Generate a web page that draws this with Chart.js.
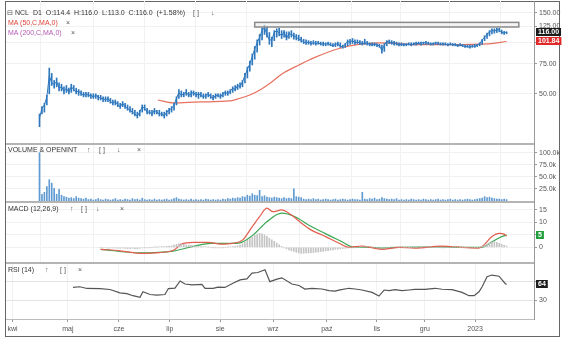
<!DOCTYPE html>
<html>
<head>
<meta charset="utf-8">
<script src="https://cdn.jsdelivr.net/npm/chart.js@4.4.0/dist/chart.umd.min.js"></script>
<style>
  html, body { margin: 0; padding: 0; background: #fff; }
  #wrap { position: relative; width: 564px; height: 341px; overflow: hidden; font-family: "Liberation Sans", Arial, sans-serif; }
  #frame { position: absolute; left: 5px; top: 1px; width: 555px; height: 336px; border: 1px solid #666; box-sizing: border-box; }
  canvas { position: absolute; left: 0; }
  .lbl { position: absolute; font-size: 7px; line-height: 8px; color: #333; white-space: nowrap; }
  .ic { color: #555; }
</style>
</head>
<body>
<div id="wrap">
  <div id="frame"></div>
  <canvas id="priceChart" width="564" height="142" style="top:1px"></canvas>
  <canvas id="volChart" width="564" height="58" style="top:143px"></canvas>
  <canvas id="macdChart" width="564" height="61" style="top:201px"></canvas>
  <canvas id="rsiChart" width="564" height="75" style="top:262px"></canvas>

  <div class="lbl ic" style="left:7px;top:9px">⊟</div>
  <div class="lbl" style="left:15px;top:9px">NCL&nbsp; D1&nbsp; O:114.4&nbsp; H:116.0&nbsp; L:113.0&nbsp; C:116.0&nbsp; (+1.58%)</div>
  <div class="lbl ic" style="left:193px;top:9px">[ ]</div>
  <div class="lbl ic" style="left:211px;top:9px">↓</div>
  <div class="lbl" style="left:8px;top:19px;color:#e0443a">MA (50,C,MA,0)</div>
  <div class="lbl ic" style="left:66px;top:19px">×</div>
  <div class="lbl" style="left:8px;top:29px;color:#b35ab6">MA (200,C,MA,0)</div>
  <div class="lbl ic" style="left:71px;top:29px">×</div>

  <div class="lbl" style="left:8px;top:146px">VOLUME &amp; OPENINT</div>
  <div class="lbl ic" style="left:87px;top:146px">↑</div>
  <div class="lbl ic" style="left:99px;top:146px">[ ]</div>
  <div class="lbl ic" style="left:117px;top:146px">↓</div>
  <div class="lbl ic" style="left:137px;top:146px">×</div>

  <div class="lbl" style="left:8px;top:205px">MACD (12,26,9)</div>
  <div class="lbl ic" style="left:70px;top:205px">↑</div>
  <div class="lbl ic" style="left:81px;top:205px">[ ]</div>
  <div class="lbl ic" style="left:96px;top:205px">↓</div>
  <div class="lbl ic" style="left:120px;top:205px">×</div>

  <div class="lbl" style="left:8px;top:266px">RSI (14)</div>
  <div class="lbl ic" style="left:45px;top:266px">↑</div>
  <div class="lbl ic" style="left:60px;top:266px">[ ]</div>
  <div class="lbl ic" style="left:78px;top:266px">×</div>
</div>

<script>
// --- dane ---
const FONT = '"Liberation Sans", Arial, sans-serif';

// oś czasu: indeks sesji (0 = początek kwietnia)
const X_MIN = -2.7, X_MAX = 213.2;
const monthPos = [0, 22.6, 43.5, 64.3, 84.9, 106.5, 128.5, 149, 168.6, 189.1];
const monthLabels = ['kwi', 'maj', 'cze', 'lip', 'sie', 'wrz', 'paź', 'lis', 'gru', '2023'];

// notowania dzienne od sesji nr 11
const priceStart = 11;
const lows = [
  32,38,39,43,50,56,54,55,52,52, 50,51,50,51,52,50,49,49,48,48,
  48,47,47,47,46,46,45,45,45,44, 43,43,42,41,42,41,40,39,38,37,
  36,37,39,40,38,38,37,38,38,37, 37,36,37,38,39,40,43,47,48,48,
  49,48,48,49,48,47,48,47,47,48, 47,46,47,48,47,48,49,49,50,51,
  52,53,54,55,58,62,68,74,80,88, 97,104,112,108,98,95,103,108,110,106,
  108,104,106,108,105,104,103,101,99,98, 98,97,98,97,98,97,96,96,97,96,
  95,95,96,94,93,94,96,98,99,98, 99,98,97,98,97,96,96,96,95,94,
  87,89,96,99,98,97,97,96,96,96, 96,97,96,97,97,98,97,98,98,98,
  97,97,98,98,97,97,97,96,97,96, 96,95,96,95,94,94,93,94,94,95,
  96,98,103,106,110,113,114,115,116,113, 112,113
];
const highs = [
  38,42,44,49,71,66,60,62,58,57, 55,56,54,57,56,54,53,52,51,51,
  51,50,50,50,49,49,48,48,48,47, 46,46,45,44,45,44,43,42,41,40,
  39,40,43,43,41,40,40,41,40,40, 39,39,40,41,42,44,48,53,52,51,
  53,51,52,52,51,51,51,50,50,51, 50,49,50,50,50,51,52,52,53,55,
  56,57,58,60,66,72,78,86,95,104, 112,122,127,124,115,108,118,121,122,118,
  118,116,116,118,114,112,111,108,105,104, 103,102,103,102,102,101,101,100,101,100,
  99,100,101,100,97,99,104,105,106,104, 104,103,102,105,102,100,100,100,99,98,
  97,99,103,104,103,102,101,100,100,99, 99,100,100,100,101,101,101,101,102,101,
  100,100,101,101,100,100,100,99,100,99, 99,98,99,98,97,97,97,97,98,98,
  100,105,110,114,118,121,121,122,122,119, 117,116
];
const closes = [
  36,41,43,48,64,58,57,59,54,55, 52,54,51,55,53,51,52,50,49,50,
  49,49,48,49,48,47,47,46,47,45, 44,45,43,42,44,42,41,40,39,38,
  37,39,42,41,39,39,38,40,39,38, 38,37,39,40,41,43,47,51,49,50,
  51,49,50,51,49,50,49,48,49,50, 48,47,49,49,48,50,51,50,52,54,
  53,56,55,59,64,70,75,83,92,100, 108,118,123,112,104,104,115,118,114,110,
  116,106,113,112,110,108,105,104,101,100, 101,99,100,99,100,98,99,98,99,97,
  96,98,99,95,95,98,102,101,103,100, 101,100,99,100,99,98,97,98,97,96,
  90,97,102,101,100,100,98,97,98,97, 98,98,97,99,99,99,100,100,100,99,
  98,99,100,99,98,99,98,97,98,98, 97,96,97,96,95,95,94,96,95,97,
  99,104,108,112,116,119,117,120,119,115, 114.2,116
];
const volumes = [ // tys. szt.
  100,14,18,30,44,37,26,14,24,12, 9,8,6,7,5,9,6,5,4,6,
  3,4,2,3,5,3,2,4,3,2, 3,5,2,3,2,4,3,2,5,3,
  4,2,6,3,2,3,2,4,2,3, 2,3,4,2,3,5,7,4,3,2,
  3,2,4,2,3,2,3,2,4,3, 2,3,2,3,2,4,3,5,4,6,
  5,7,6,9,8,12,10,15,12,11, 22,9,11,8,7,6,8,7,6,5,
  7,5,6,5,25,9,8,7,4,3, 4,3,5,3,4,2,3,4,3,2,
  3,4,2,3,4,3,2,3,4,3, 3,2,18,4,3,5,4,6,3,4,
  7,5,4,3,4,3,5,2,3,2, 3,2,4,3,2,3,2,4,3,2,
  3,2,3,4,2,3,2,3,4,2, 3,2,3,2,3,4,3,2,3,4,
  5,6,9,7,8,6,5,4,4,3, 4,3
];

// MA(50)
const maIdx = [59.4, 65.6, 76.6, 88.9, 93, 97, 101.1, 106.1, 110.1, 117.1, 123.6, 133.5, 141.6, 149.8, 155.1, 164.5, 178.5, 194.8, 202];
const maVal = [46.0, 44.2, 44.8, 45.4, 47.1, 49.2, 52.7, 59.0, 65.5, 74, 82, 92.6, 97.8, 100, 99.6, 97.5, 97.5, 98.5, 101.84];

// strefa (prostokąt) na wykresie ceny
const zoneFrom = 99, zoneTo = 207, zoneLow = 124, zoneHigh = 132;

// MACD
const macdIdx = [36, 44, 52, 60, 66, 69, 74, 80, 85, 90, 94, 98, 101, 104, 106.5, 110, 114, 118, 122, 128, 133.5, 137.5, 143, 151, 158, 164.5, 175.5, 184, 190.5, 192, 196, 199, 201, 202];
const macdVal = [-0.8, -1.4, -2.4, -2.1, -1.1, 1.3, 2.0, 2.0, 1.3, 1.6, 2.9, 8.3, 12.3, 15.7, 14.3, 15.0, 13, 9.8, 7, 4.3, 1.6, 0, 0.5, -0.8, 0, -0.3, 0.5, 0, -0.3, 0.3, 4.3, 5.6, 5.3, 4.5];
const signalIdx = [36, 52, 65.6, 74.4, 81, 89, 93, 98.3, 104, 110, 115.5, 121, 127.7, 134.7, 138.8, 145.7, 151, 158, 173, 186, 192, 196, 200, 202];
const signalVal = [-0.8, -2.2, -1.5, 0.5, 1.6, 1.6, 1.8, 4.9, 10.3, 13.7, 12.3, 9, 5.6, 2.2, 0.2, 0, -0.3, 0, 0.2, 0, 0, 2.2, 4.3, 4.9];
const histStart = 36;
const histVals = [
  -0.1,-0.2,-0.2,-0.3,-0.3,-0.2,-0.3,-0.4,-0.4,-0.3,-0.4,-0.5,-0.5,-0.4,-0.5,-0.6,-0.4,
  -0.2,-0.1,-0.2,-0.1,0,0.1,0.1,0.2,0.3,0.3,0.4,0.5,0.6,
  0.9,1.2,1.4,1.3,1.2,1.0,0.9,0.8,0.6,0.5,
  0.4,0.3,0.3,0.2,0.1,0,-0.1,-0.1,-0.2,-0.2,-0.1,0,0.1,0.2,0.3,0.4,0.6,
  0.9,1.4,2.0,2.8,3.5,4.2,4.8,5.3,5.6,5.4,5.0,4.4,3.6,3.0,2.4,1.7,1.0,0.4,
  -0.2,-0.6,-1.0,-1.4,-1.7,-2.0,-2.2,-2.4,-2.4,-2.3,-2.3,-2.2,-2.1,-2.0,-1.9,-1.7,-1.6,-1.4,-1.3,-1.1,-1.0,-0.8,-0.7,-0.6,-0.5,-0.4,-0.3,-0.2,-0.2,-0.1,
  0,0.1,0.2,0.2,0.3,0.2,0.1,0,-0.1,-0.2,-0.4,-0.3,-0.1,0,0.1,0.2,0.2,0.1,0.1,0,0,-0.1,-0.1,0,0,0.1,0.1,0.2,0.2,0.1,0.1,0,0,0,-0.1,-0.1,-0.1,0,0,0.1,0.1,0,0,-0.1,-0.1,-0.2,-0.2,-0.2,-0.1,-0.1,
  0,0.4,0.9,1.4,1.8,2.1,2.2,2.0,1.6,1.2,0.8,0.5
];
const macdTagText = '5';

// RSI(14)
const rsiIdx = [24.7, 27.5, 30.4, 35.7, 39.8, 43.9, 46.7, 49.2, 52.1, 53.3, 56.2, 59, 62.3, 63.7, 66.4, 68.5, 70.5, 73.3, 77.4, 78.7, 82, 84, 86.8, 90.1, 93, 95.8, 97.9, 100.3, 103.2, 105.2, 108.1, 110.1, 114.2, 117.1, 119.5, 122.4, 126.5, 129.4, 131.8, 133.9, 137.5, 140, 142.9, 147, 149.8, 151.9, 154, 156.4, 159.2, 162.1, 164.5, 168.6, 172.7, 175.6, 179.7, 183.8, 186.6, 188.7, 190.7, 192, 194, 196, 198.9, 201.3, 202];
const rsiVal = [57.5, 58.9, 55.2, 55, 53, 45.6, 44, 39.4, 35.7, 48, 42, 40.7, 42, 55, 56, 71.5, 65, 63, 64.3, 55.5, 55.5, 58, 57.5, 66.7, 74, 76, 88.7, 90, 96, 70, 75.5, 78.4, 65, 61.6, 54, 55.6, 54, 50.6, 49.5, 52, 55.6, 54, 51.8, 46.7, 38.7, 51.8, 50.6, 52.5, 50.6, 51.8, 53, 53, 55.6, 53.5, 52.5, 46.7, 39.4, 39.4, 48, 59, 80.8, 84.5, 82, 66.7, 64];

// --- pomocnicze ---
const seq = (start, vals) => vals.map((v, i) => ({ x: start + i, y: v }));
const pts = (xs, ys) => xs.map((x, i) => ({ x: x, y: ys[i] }));

// Etykiety wartości przy osi (czarne/czerwone/zielone pudełka)
const tagPlugin = {
  id: 'tags',
  afterDraw(chart, args, opts) {
    const ctx = chart.ctx, y = chart.scales.y;
    (opts.items || []).forEach(t => {
      const py = Math.round(y.getPixelForValue(t.value));
      ctx.save();
      ctx.font = 'bold 7px ' + FONT;
      const w = ctx.measureText(t.text).width + 4;
      ctx.fillStyle = t.bg;
      ctx.fillRect(y.left + 2, py - 4, w, 8);
      ctx.fillStyle = '#fff';
      ctx.textBaseline = 'middle';
      ctx.fillText(t.text, y.left + 4, py + 0.5);
      ctx.restore();
    });
  }
};

// Szara linia oddzielająca panele
const panelLinePlugin = {
  id: 'panelLine',
  afterDraw(chart, args, opts) {
    if (!opts.show) return;
    const a = chart.chartArea, ctx = chart.ctx;
    ctx.save();
    ctx.fillStyle = '#b4b4b4';
    ctx.fillRect(a.left, a.top, a.right - a.left, 2);
    ctx.restore();
  }
};

// Prostokąt strefy na wykresie ceny
const zonePlugin = {
  id: 'zone',
  afterDatasetsDraw(chart, args, opts) {
    if (!opts.show) return;
    const ctx = chart.ctx, x = chart.scales.x, y = chart.scales.y;
    const x1 = x.getPixelForValue(zoneFrom), x2 = x.getPixelForValue(zoneTo);
    const y1 = y.getPixelForValue(zoneHigh), y2 = y.getPixelForValue(zoneLow);
    ctx.save();
    ctx.fillStyle = 'rgba(235,235,235,0.6)';
    ctx.fillRect(x1, y1, x2 - x1, y2 - y1);
    ctx.strokeStyle = '#8a8a8a';
    ctx.lineWidth = 1.5;
    ctx.strokeRect(x1, y1, x2 - x1, y2 - y1);
    ctx.restore();
  }
};

function xAxis(showLabels) {
  return {
    type: 'linear', min: X_MIN, max: X_MAX, offset: false,
    afterBuildTicks: s => { s.ticks = monthPos.map(v => ({ value: v })); },
    afterFit: s => {
      s.height = showLabels ? 18 : 0;
      s.paddingLeft = 0; s.paddingRight = 0;
    },
    ticks: {
      display: showLabels, autoSkip: false, maxRotation: 0, padding: 3,
      color: '#555', font: { size: 7, family: FONT },
      callback: (v, i) => monthLabels[i]
    },
    grid: { color: '#f1f1f1', drawTicks: showLabels, tickLength: 3, tickColor: '#999' },
    border: { display: showLabels, color: '#bbb' }
  };
}

function yAxis(cfg, tickValues, fmt, gridColor) {
  return Object.assign({
    position: 'right',
    afterFit: s => {
      s.width = 30;
      s.paddingTop = 0; s.paddingBottom = 0;
    },
    afterBuildTicks: s => { s.ticks = tickValues.map(v => ({ value: v })); },
    grid: { color: gridColor || '#f1f1f1', tickLength: 3, tickColor: '#999' },
    border: { color: '#999' },
    ticks: { color: '#555', font: { size: 7, family: FONT }, padding: 2, callback: fmt }
  }, cfg);
}

function makeChart(id, datasets, yCfg, showX, pluginOpts) {
  return new Chart(document.getElementById(id), {
    type: 'line',
    data: { datasets: datasets },
    options: {
      responsive: false,
      animation: false,
      layout: { padding: { left: 6, right: 0, top: 0, bottom: 0 } },
      elements: { point: { radius: 0 } },
      plugins: Object.assign({ legend: { display: false }, tooltip: { enabled: false } }, pluginOpts),
      scales: { x: xAxis(showX), y: yCfg }
    },
    plugins: [tagPlugin, panelLinePlugin, zonePlugin]
  });
}

// --- wykres ceny ---
makeChart('priceChart', [
  {
    type: 'bar',
    data: lows.map((l, i) => ({ x: priceStart + i, y: [l, highs[i]] })),
    backgroundColor: '#2f78bd',
    barThickness: 1
  },
  {
    data: seq(priceStart, closes),
    borderColor: '#2f78bd',
    borderWidth: 1
  },
  {
    data: pts(maIdx, maVal),
    borderColor: '#e8705e',
    borderWidth: 1.2,
    cubicInterpolationMode: 'monotone'
  }
], yAxis({ type: 'logarithmic', min: 25.64, max: 176.5 }, [50, 75, 100, 125, 150], v => Number(v).toFixed(2)), false, {
  tags: { items: [
    { value: 116, text: '116.00', bg: '#1c1c1c' },
    { value: 101.84, text: '101.84', bg: '#e02a2a' }
  ] },
  zone: { show: true }
});

// --- wolumen ---
makeChart('volChart', [
  {
    type: 'bar',
    data: seq(priceStart, volumes),
    backgroundColor: '#5f9bd2',
    barThickness: 1
  }
], yAxis({ min: 0, max: 120 }, [25, 50, 75, 100], v => Number(v).toFixed(1) + 'k'), false, {
  panelLine: { show: true }
});

// --- MACD ---
makeChart('macdChart', [
  {
    type: 'bar',
    data: seq(histStart, histVals),
    backgroundColor: '#c4c4c4',
    barThickness: 1
  },
  {
    data: pts(macdIdx, macdVal),
    borderColor: '#e35d4f',
    borderWidth: 1.2,
    cubicInterpolationMode: 'monotone'
  },
  {
    data: pts(signalIdx, signalVal),
    borderColor: '#3aa853',
    borderWidth: 1.2,
    cubicInterpolationMode: 'monotone'
  }
], yAxis({ min: -5.9, max: 18.6 }, [0, 5, 10, 15], v => String(v)), false, {
  panelLine: { show: true },
  tags: { items: [{ value: signalVal[signalVal.length - 1], text: macdTagText, bg: '#1e9e3c' }] }
});

// --- RSI ---
makeChart('rsiChart', [
  {
    data: pts(rsiIdx, rsiVal),
    borderColor: '#555',
    borderWidth: 1.2
  }
], yAxis({ min: -11.5, max: 113 }, [30, 70], v => (v === 70 ? '' : String(v)), '#e4e4e4'), true, {
  panelLine: { show: true },
  tags: { items: [{ value: rsiVal[rsiVal.length - 1], text: '64', bg: '#1c1c1c' }] }
});
</script>
</body>
</html>
